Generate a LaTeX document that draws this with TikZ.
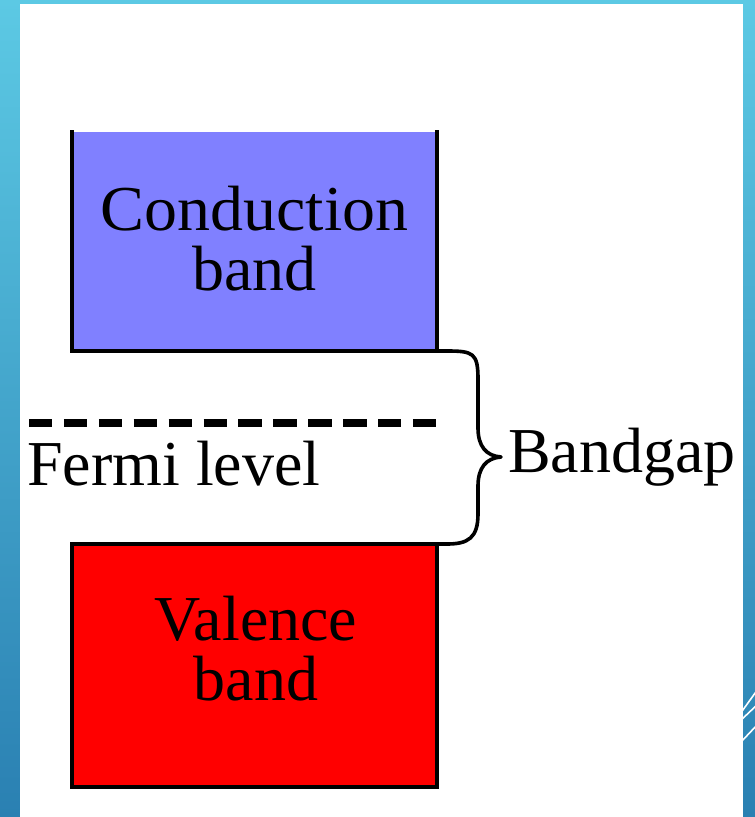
\documentclass[tikz,border=0pt]{standalone}
\usepackage{fontspec}
\setmainfont{Liberation Serif}
\usetikzlibrary{fit}
\definecolor{frametop}{HTML}{5CC9E4}
\definecolor{framebot}{HTML}{2A80B2}
\definecolor{condblue}{HTML}{8080FF}
\definecolor{valred}{HTML}{FF0000}
\tikzset{
  bandbox/.style={draw=none, inner sep=0pt, outer sep=0pt},
  boxedge/.style={line width=3.4pt, line cap=rect},
  bandtext/.style={anchor=base, inner sep=0pt, font=\fontsize{64}{60}\selectfont},
  sidetext/.style={anchor=base west, inner sep=0pt, font=\fontsize{64}{60}\selectfont},
  fermiline/.style={line width=8pt, dash pattern=on 23.4pt off 11.5pt},
  bracepath/.style={line width=3.6pt, line join=round},
  decoline/.style={white, line width=1.6pt}
}
\begin{document}
\begin{tikzpicture}[x=1pt, y=-1pt]
  \useasboundingbox (0,0) rectangle (755,817);
  % frame
  \shade[top color=frametop, bottom color=framebot] (0,0) rectangle (755,817);
  \begin{scope}
    \clip (743,0) rectangle (755,817);
    \draw[decoline] (740,714) -- (758,689);
    \draw[decoline] (740,721) -- (758,704);
    \draw[decoline] (740,743) -- (758,724);
  \end{scope}
  \fill[white] (20,4) rectangle (743,817);
  % conduction band
  \coordinate (cbnw) at (72,132);
  \coordinate (cbse) at (437,351);
  \fill[condblue] (cbnw) rectangle (cbse);
  \node[bandbox, fit={(cbnw)(cbse)}] (cb) {};
  \draw[boxedge] (cb.north west) -- (cb.south west) -- (cb.south east) -- (cb.north east);
  \node[bandtext] (cbt1) at (254.5,230) {\scalebox{1.03}[1]{Conduction}};
  \node[bandtext] (cbt2) at (254.5,290) {band};
  % valence band
  \coordinate (vbnw) at (72,544);
  \coordinate (vbse) at (437,787);
  \fill[valred] (vbnw) rectangle (vbse);
  \node[bandbox, fit={(vbnw)(vbse)}] (vb) {};
  \draw[boxedge] (vb.north west) rectangle (vb.south east);
  \node[bandtext] (vbt1) at (256,640) {Valence};
  \node[bandtext] (vbt2) at (256,700) {band};
  % Fermi level
  \coordinate (fl1) at (29,423);
  \coordinate (fl2) at (437,423);
  \draw[fermiline] (fl1) -- (fl2);
  \node[sidetext] (fermi) at (27,485) {Fermi level};
  % brace
  \coordinate (tip) at (501,457);
  \draw[bracepath] (cb.south east) -- ++(10,0)
     .. controls +(26,0) and +(0,-26) .. ++(31,28)
     -- (478,428)
     .. controls (478,446) and (486,456) .. (tip)
     .. controls (486,458) and (478,468) .. (478,486)
     -- (478,514)
     .. controls (478,538) and (468,544) .. (447,544)
     -- (vb.north east);
  \node[sidetext] (gap) at (508,472) {Bandgap};
\end{tikzpicture}
\end{document}
